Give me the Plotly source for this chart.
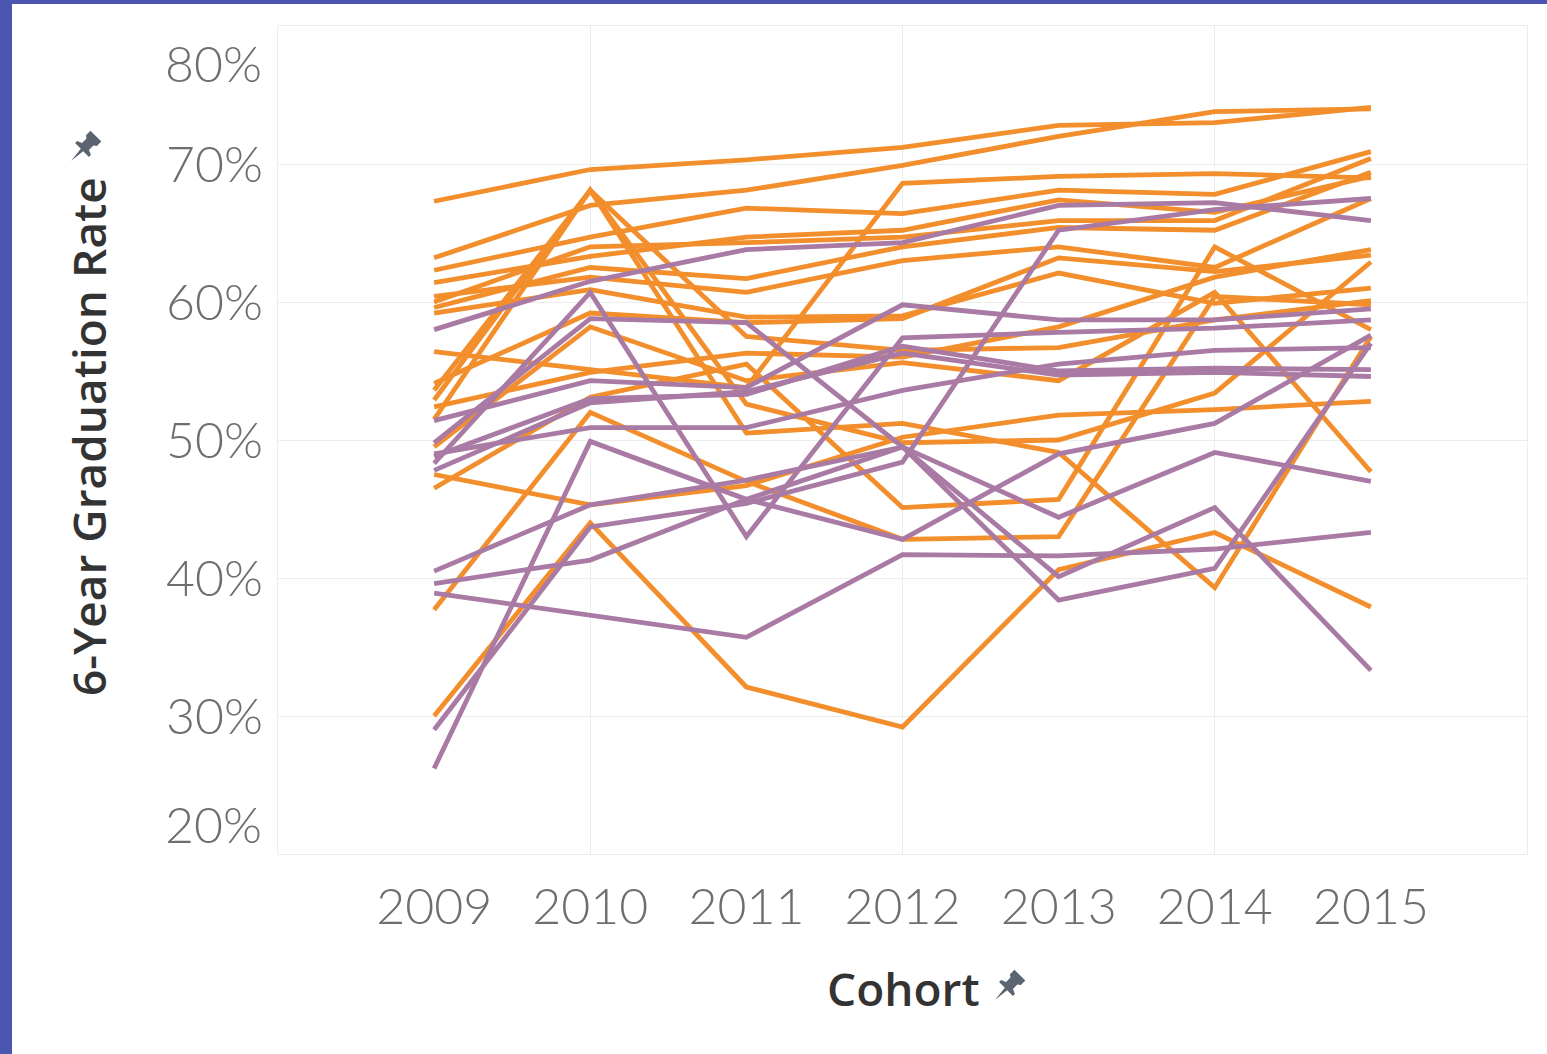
import numpy as np
import plotly.graph_objects as go

years = [2009, 2010, 2011, 2012, 2013, 2014, 2015]
year_labels = ["2009", "2010", "2011", "2012", "2013", "2014", "2015"]
y_ticks = [30, 40, 50, 60, 70]
y_tick_labels = ["30%", "40%", "50%", "60%", "70%"]

# Orange group (graduation rate, %)
orange_series = [
    [67.3, 69.6, 70.3, 71.2, 72.8, 73.0, 74.1],
    [63.2, 67.0, 68.1, 69.9, 72.0, 73.8, 74.0],
    [62.3, 64.7, 66.8, 66.4, 68.1, 67.8, 70.9],
    [61.4, 63.3, 64.7, 65.2, 67.4, 66.5, 69.1],
    [59.6, 62.5, 61.7, 64.0, 65.4, 65.2, 69.4],
    [60.0, 64.0, 64.3, 64.7, 65.9, 65.9, 70.4],
    [60.4, 61.8, 60.7, 63.0, 64.0, 62.5, 67.5],
    [59.2, 60.9, 58.9, 59.0, 62.1, 59.9, 61.0],
    [56.4, 55.1, 53.8, 68.6, 69.1, 69.3, 69.0],
    [54.1, 59.2, 58.5, 58.8, 63.2, 62.2, 63.4],
    [53.6, 68.1, 57.5, 56.5, 56.7, 58.7, 60.1],
    [52.9, 68.1, 52.6, 49.8, 50.0, 53.4, 62.9],
    [52.4, 54.9, 56.3, 56.0, 58.2, 61.8, 63.8],
    [49.5, 58.2, 54.3, 55.6, 54.3, 60.7, 47.7],
    [47.5, 45.3, 46.7, 50.2, 51.8, 52.2, 52.8],
    [46.5, 53.1, 55.5, 45.1, 45.7, 64.0, 58.0],
    [37.7, 52.0, 47.0, 42.8, 43.0, 60.4, 59.8],
    [30.0, 44.0, 32.1, 29.2, 40.6, 43.3, 37.9],
    [51.5, 68.1, 50.5, 51.2, 49.1, 39.3, 57.5],
]

# Purple group (graduation rate, %)
purple_series = [
    [58.0, 61.5, 63.8, 64.3, 67.0, 67.2, 65.9],
    [48.3, 60.7, 43.0, 57.4, 57.8, 58.1, 58.7],
    [49.8, 58.8, 58.5, 49.5, 40.1, 45.1, 33.3],
    [51.4, 54.3, 53.8, 59.8, 58.7, 58.7, 59.5],
    [48.8, 53.0, 53.3, 56.8, 55.0, 55.2, 55.1],
    [47.8, 52.7, 53.5, 56.3, 54.7, 54.9, 54.6],
    [49.0, 50.9, 50.9, 53.6, 55.5, 56.5, 56.7],
    [26.2, 49.9, 45.7, 42.8, 49.0, 51.2, 57.6],
    [29.0, 43.7, 45.4, 48.4, 65.2, 66.7, 67.5],
    [40.5, 45.3, 47.1, 49.5, 44.4, 49.1, 47.0],
    [39.6, 41.3, 45.7, 49.5, 38.4, 40.7, 57.0],
    [38.9, 37.3, 35.7, 41.7, 41.6, 42.1, 43.3],
]

ORANGE = "#F28E2B"
PURPLE = "#A97AA4"

fig = go.Figure()
for vals in orange_series:
    fig.add_trace(go.Scatter(x=years, y=vals, mode="lines",
                             line=dict(color=ORANGE, width=4.8),
                             showlegend=False, hoverinfo="skip"))
for vals in purple_series:
    fig.add_trace(go.Scatter(x=years, y=vals, mode="lines",
                             line=dict(color=PURPLE, width=4.8),
                             showlegend=False, hoverinfo="skip"))

W, H = 1547, 1054
ML, MR, MT, MB = 278, 20, 26, 200
PW, PH = W - ML - MR, H - MT - MB

def px(xp):
    return (xp - ML) / PW

def py(yp):
    return (H - MB - yp) / PH

tick_font = dict(family="Lato, Open Sans, sans-serif", size=50, color="#6e6e6e", weight=300)
grid_col = "#ededed"

fig.update_layout(
    width=W, height=H,
    margin=dict(l=ML, r=MR, t=MT, b=MB, pad=0),
    paper_bgcolor="white",
    plot_bgcolor="white",
    xaxis=dict(
        range=[2008, 2016],
        tickmode="array", tickvals=years, ticktext=year_labels,
        showgrid=False, zeroline=False,
        ticks="", ticklabelstandoff=9,
        tickfont=tick_font,
        showline=True, mirror=True, linecolor=grid_col, linewidth=1,
        minor=dict(tickmode="array", tickvals=[2010, 2012, 2014],
                   showgrid=True, gridcolor=grid_col, gridwidth=1, ticklen=0),
    ),
    yaxis=dict(
        range=[20, 80],
        tickmode="array", tickvals=y_ticks, ticktext=y_tick_labels,
        showgrid=True, gridcolor=grid_col, gridwidth=1, zeroline=False,
        ticks="", ticklabelstandoff=4,
        tickfont=tick_font,
        showline=True, mirror=True, linecolor=grid_col, linewidth=1,
    ),
)

# Edge tick labels (shifted inward as in the original)
fig.add_annotation(text="80%", x=0, xref="paper", y=80, yref="y",
                   xanchor="right", yanchor="middle", xshift=-14, yshift=-37,
                   showarrow=False, font=tick_font)
fig.add_annotation(text="20%", x=0, xref="paper", y=20, yref="y",
                   xanchor="right", yanchor="middle", xshift=-14, yshift=30,
                   showarrow=False, font=tick_font)

title_font = dict(family="Open Sans, Noto Sans, sans-serif", size=46, color="#333333", weight=600)
fig.add_annotation(text="6-Year Graduation Rate", x=px(88), y=py(437),
                   xref="paper", yref="paper", textangle=-90,
                   xanchor="center", yanchor="middle", showarrow=False, font=title_font)
fig.add_annotation(text="Cohort", x=px(903), y=py(988),
                   xref="paper", yref="paper",
                   xanchor="center", yanchor="middle", showarrow=False, font=title_font)

# Pushpin icons
pin_pts = np.array([
    (0, -13), (1.2, -2), (7, -2), (7, 0), (3.5, 1.5), (3.5, 6), (5.5, 7.5),
    (5.5, 12), (-5.5, 12), (-5.5, 7.5), (-3.5, 6), (-3.5, 1.5), (-7, 0),
    (-7, -2), (-1.2, -2),
]) * 1.4
th = np.deg2rad(-45)
rot = np.array([[np.cos(th), -np.sin(th)], [np.sin(th), np.cos(th)]])
pin_rot = pin_pts @ rot.T
pin_path = "M " + " L ".join(f"{a:.2f},{b:.2f}" for a, b in pin_rot) + " Z"

for (cx, cy) in [(84, 148), (1008, 987)]:
    fig.add_shape(type="path", path=pin_path,
                  xref="paper", yref="paper",
                  xsizemode="pixel", ysizemode="pixel",
                  xanchor=px(cx), yanchor=py(cy),
                  fillcolor="#5b6572", line=dict(width=0))

# Blue window frame (left and top strips)
BLUE = "#4b56b0"
fig.add_shape(type="rect", xref="paper", yref="paper",
              x0=px(0), x1=px(12), y0=py(H), y1=py(0),
              fillcolor=BLUE, line=dict(width=0), layer="below")
fig.add_shape(type="rect", xref="paper", yref="paper",
              x0=px(0), x1=px(W), y0=py(4), y1=py(0),
              fillcolor=BLUE, line=dict(width=0), layer="below")

fig.write_html("out.html",
               config={"displayModeBar": False},
               post_script="document.body.style.margin='0';document.body.style.overflow='hidden';")
